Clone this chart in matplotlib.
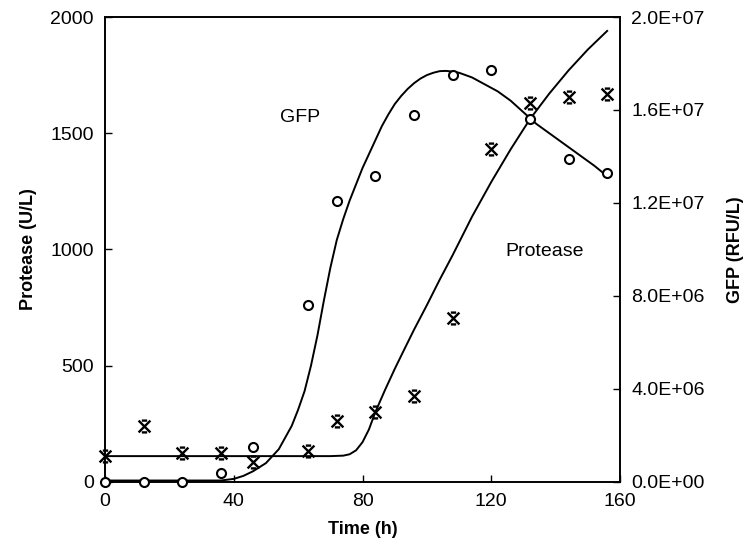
import matplotlib
matplotlib.use('Agg')
import matplotlib.pyplot as plt
from matplotlib.path import Path

plt.rcParams['font.family'] = ['Liberation Sans', 'DejaVu Sans']

# measured points (time in h)
time_pts = [0, 12, 24, 36, 46, 63, 72, 84, 96, 108, 120, 132, 144, 156]
protease_pts = [111, 240, 125, 125, 86, 134, 259, 302, 369, 704, 1430, 1631, 1655, 1670]
gfp_pts = [0, 0, 0, 0.39e6, 1.48e6, 7.59e6, 12.07e6, 13.15e6, 15.8e6, 17.5e6,
           17.7e6, 15.6e6, 13.9e6, 13.3e6]

# fitted curves
protease_fit_t = [0, 70, 74, 76, 78, 80, 82, 84, 87, 90, 93, 96, 100, 104, 108, 114,
                  120, 126, 132, 138, 144, 150, 156]
protease_fit = [110, 110, 112, 118, 135, 170, 225, 300, 395, 485, 570, 654, 760, 870,
                975, 1140, 1290, 1430, 1560, 1670, 1770, 1860, 1940]
gfp_fit_t = [0, 36, 40, 43, 46, 50, 54, 58, 60, 62, 64, 66, 68, 70, 72, 74, 76, 78,
             80, 82, 84, 86, 88, 90, 92, 94, 96, 98, 100, 102, 104, 106, 108, 110,
             114, 118, 122, 126, 130, 134, 140, 146, 152, 156]
gfp_fit = [0.05e6, 0.05e6, 0.12e6, 0.25e6, 0.45e6, 0.8e6, 1.4e6, 2.4e6, 3.1e6,
           3.9e6, 5.0e6, 6.3e6, 7.8e6, 9.2e6, 10.4e6, 11.3e6, 12.1e6, 12.8e6,
           13.5e6, 14.1e6, 14.7e6, 15.3e6, 15.8e6, 16.25e6, 16.6e6, 16.9e6, 17.15e6,
           17.35e6, 17.5e6, 17.6e6, 17.67e6, 17.68e6, 17.65e6, 17.6e6, 17.4e6,
           17.1e6, 16.8e6, 16.4e6, 15.9e6, 15.4e6, 14.8e6, 14.2e6, 13.6e6, 13.15e6]

x_ticks = [0, 40, 80, 120, 160]
left_ticks = [0, 500, 1000, 1500, 2000]
right_ticks = [0, 4e6, 8e6, 12e6, 16e6, 20e6]
right_labels = ['0.0E+00', '4.0E+06', '8.0E+06', '1.2E+07', '1.6E+07', '2.0E+07']

# X with short bars on top and bottom, like the original asterisk symbol
star = Path([(-1, -1), (1, 1), (-1, 1), (1, -1),
             (-0.45, 1), (0.45, 1), (-0.45, -1), (0.45, -1)],
            [Path.MOVETO, Path.LINETO, Path.MOVETO, Path.LINETO,
             Path.MOVETO, Path.LINETO, Path.MOVETO, Path.LINETO])

fig = plt.figure(figsize=(7.48, 5.52), dpi=100)
ax = fig.add_axes([0.1404, 0.1274, 0.6885, 0.8418])
ax2 = ax.twinx()

ax.plot(protease_fit_t, protease_fit, color='black', lw=1.4, clip_on=False)
ax.plot(time_pts, protease_pts, linestyle='none', marker=star, ms=8.5, mew=1.7,
        color='black', clip_on=False, zorder=5)

ax2.plot(gfp_fit_t, gfp_fit, color='black', lw=1.4, clip_on=False)
ax2.plot(time_pts, gfp_pts, linestyle='none', marker='o', ms=6.5, mew=1.5,
         mfc='white', mec='black', clip_on=False, zorder=5)

ax.set_xlim(0, 160)
ax.set_ylim(0, 2000)
ax2.set_ylim(0, 2e7)
ax.set_xticks(x_ticks)
ax.set_yticks(left_ticks)
ax2.set_yticks(right_ticks)
ax2.set_yticklabels(right_labels)

for a in (ax, ax2):
    a.tick_params(direction='in', length=5, width=1, labelsize=14, pad=8)
    for s in a.spines.values():
        s.set_linewidth(1.2)

ax.set_xlabel('Time (h)', fontsize=13, fontweight='bold', labelpad=8)
ax.set_ylabel('Protease (U/L)', fontsize=13, fontweight='bold', labelpad=10)
ax2.set_ylabel('GFP (RFU/L)', fontsize=13, fontweight='bold', labelpad=16)

ax.text(60.6, 1568, 'GFP', fontsize=14, ha='center', va='center')
ax.text(136.6, 991, 'Protease', fontsize=14, ha='center', va='center')

fig.savefig('out.png', dpi=100)
